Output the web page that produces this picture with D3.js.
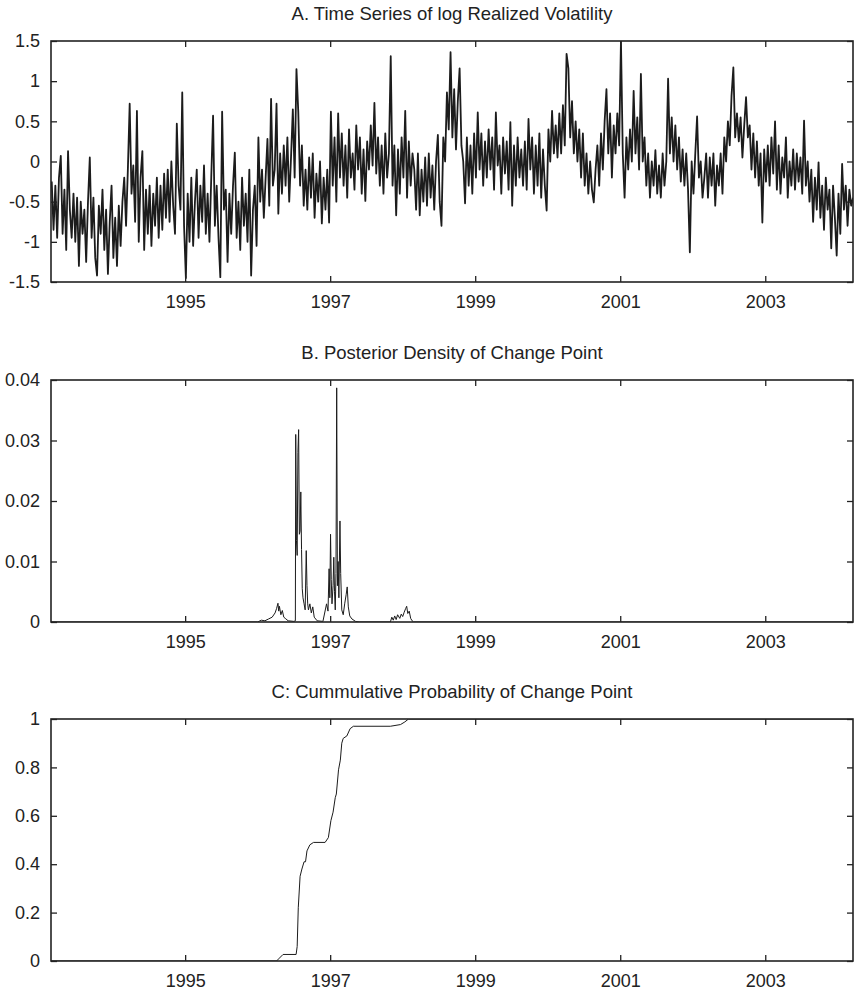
<!DOCTYPE html>
<html>
<head>
<meta charset="utf-8">
<script src="https://cdnjs.cloudflare.com/ajax/libs/d3/7.8.5/d3.min.js"></script>
<style>
  body { margin: 0; background: #fff; }
  svg text { font-family: "Liberation Sans", Arial, Helvetica, sans-serif; fill: #222; }
</style>
</head>
<body>
<div id="chart"></div>
<script>
// Panel A: log realized volatility, one value every 0.025 years starting at volStart
var volStart = 1993.16;
var volStep = 0.025;
var logRV = [
  -0.25,-0.85,-0.3,-0.95,-0.2,0.07,-0.9,-0.35,-1.1,0.13,-0.6,-0.95,-0.4,-1.0,-0.45,-1.3,-0.5,-0.9,-0.6,-1.25,
  -0.5,0.05,-0.95,-0.45,-1.2,-1.42,-0.55,-0.9,-0.35,-1.1,-0.6,-1.4,-0.75,-0.3,-1.2,-0.7,-1.3,-0.55,-1.05,-0.5,
  -0.2,-0.8,-0.1,0.72,-0.4,-0.05,-0.75,0.63,-1.0,-0.2,0.13,-1.1,-0.35,-0.9,-0.3,-1.05,-0.4,-0.8,-0.2,-0.95,
  -0.3,-0.85,-0.15,-0.7,-0.1,-0.75,0.0,-0.55,-0.9,0.47,-0.3,-0.6,0.86,-0.8,-1.45,-0.4,-1.0,-0.2,-1.05,-0.5,
  -0.1,-0.95,-0.3,-0.75,-0.05,-0.9,-0.4,-1.0,-0.2,0.57,-0.8,-0.3,-0.95,-1.44,0.62,-0.6,-0.35,-1.25,-0.4,-0.9,
  -0.3,0.11,-0.95,-0.5,-1.1,-0.2,-0.8,-0.4,-1.0,-0.1,-1.42,-0.6,-0.3,-1.05,0.3,-0.5,-0.1,-0.7,-0.2,0.28,
  -0.55,0.78,-0.3,-0.1,0.72,-0.65,0.1,-0.4,0.2,-0.3,0.3,-0.5,0.05,0.65,-0.2,1.15,0.62,-0.3,0.2,-0.55,
  -0.1,-0.6,0.05,-0.45,0.1,-0.7,-0.15,-0.5,0.0,-0.77,-0.2,-0.6,-0.1,-0.76,0.62,-0.3,0.3,-0.5,0.6,-0.2,
  0.35,-0.3,0.2,-0.45,0.4,-0.2,0.1,-0.35,0.45,-0.1,0.3,-0.4,0.15,-0.49,0.25,-0.1,0.45,-0.05,0.73,-0.15,
  0.3,-0.3,0.2,-0.4,0.35,-0.2,0.1,1.31,-0.3,0.2,-0.67,0.15,-0.4,0.3,-0.2,0.63,-0.45,0.25,-0.3,0.1,
  -0.1,-0.6,0.1,-0.67,-0.1,-0.5,0.05,-0.55,0.1,-0.45,-0.05,-0.6,0.0,0.33,-0.5,-0.8,0.3,0.0,0.86,0.4,
  1.36,0.3,0.9,0.15,0.75,1.16,0.2,0.0,-0.52,0.3,-0.3,0.2,-0.4,0.35,-0.2,0.61,-0.1,0.35,-0.3,0.25,
  -0.2,0.4,-0.1,0.3,-0.35,0.61,-0.05,0.2,-0.4,0.3,-0.15,0.25,-0.35,0.49,-0.55,0.2,-0.3,0.3,-0.2,0.15,
  -0.3,0.25,-0.35,0.53,-0.1,0.3,-0.4,0.2,-0.3,0.35,-0.45,0.15,-0.3,-0.61,0.4,0.0,0.63,0.1,0.45,0.05,
  0.6,0.1,0.7,0.2,1.34,1.16,0.3,0.75,0.1,0.5,0.0,0.4,-0.2,0.35,-0.3,0.1,-0.4,0.0,-0.35,-0.51,
  -0.1,0.2,-0.3,0.35,-0.1,0.5,0.9,0.1,0.6,-0.2,0.45,0.1,0.6,0.2,1.5,0.1,-0.45,0.3,-0.1,0.4,
  0.0,0.88,0.1,0.55,-0.1,1.09,0.0,0.3,-0.3,0.1,-0.45,0.0,-0.3,0.14,-0.4,-0.05,-0.45,0.1,-0.3,0.0,
  1.03,0.1,0.55,0.0,0.45,-0.1,0.3,-0.25,0.15,-0.3,0.1,-0.35,-1.13,0.0,-0.4,0.1,0.56,-0.2,0.0,-0.45,
  -0.2,0.1,-0.45,0.05,-0.3,0.1,-0.55,-0.05,-0.3,0.1,-0.4,0.3,0.0,0.5,0.2,0.82,1.17,0.3,0.6,0.25,
  0.55,0.05,0.45,0.8,0.3,0.45,-0.1,0.35,-0.2,0.25,-0.3,0.1,-0.76,0.15,-0.25,0.2,-0.3,0.3,-0.15,0.5,
  -0.35,0.2,-0.4,0.05,-0.2,0.3,-0.45,0.0,-0.3,0.15,-0.35,0.1,-0.25,0.05,-0.4,0.51,-0.3,0.0,-0.5,-0.1,
  -0.75,-0.2,-0.6,-0.01,-0.7,-0.3,-0.85,-0.2,-0.6,-0.35,-1.08,-0.3,-0.7,-1.17,-0.4,-0.9,-0.03,-0.6,-0.3,-0.8,
  -0.35,-0.55,-0.45
];

// Panel B: posterior density of the change point (year, density)
var densYears = [1993.15,1996.0,1996.05,1996.1,1996.15,1996.2,1996.24,1996.26,1996.28,1996.29,1996.30,1996.32,1996.34,1996.36,1996.38,1996.42,1996.5,1996.52,
  1996.525,1996.535,1996.545,1996.555,1996.565,1996.575,1996.585,1996.595,1996.605,1996.615,1996.625,1996.64,1996.655,1996.67,1996.68,1996.69,1996.70,1996.72,1996.74,1996.76,1996.78,1996.82,1996.90,
  1996.95,1996.97,1996.985,1996.995,1997.005,1997.015,1997.025,1997.04,1997.05,1997.06,1997.07,1997.08,1997.09,1997.10,1997.11,1997.12,1997.135,1997.145,1997.16,1997.18,1997.20,1997.22,1997.235,1997.25,1997.27,1997.30,1997.35,1997.40,
  1997.83,1997.85,1997.87,1997.89,1997.91,1997.93,1997.96,1997.98,1998.00,1998.02,1998.04,1998.055,1998.07,1998.09,1998.11,1998.13,1998.15,2004.21];
var densValues = [0,0,0.0003,0.0002,0.0005,0.0008,0.0015,0.0022,0.0031,0.0018,0.0026,0.0012,0.0019,0.0008,0.0006,0.0002,0.0001,0.0002,
  0.0310,0.0135,0.0110,0.0280,0.0318,0.0145,0.0150,0.0215,0.0120,0.0055,0.0040,0.0030,0.0020,0.0118,0.0060,0.0030,0.0020,0.0030,0.0015,0.0025,0.0008,0.0002,0.0001,
  0.0030,0.0018,0.0088,0.0040,0.0145,0.0070,0.0030,0.0060,0.0107,0.0050,0.0020,0.0080,0.0387,0.0060,0.0100,0.0040,0.0167,0.0080,0.0020,0.0012,0.0030,0.0045,0.0058,0.0025,0.0010,0.0005,0.0001,0,
  0,0.0008,0.0003,0.0010,0.0004,0.0012,0.0006,0.0013,0.0009,0.0016,0.0022,0.0026,0.0014,0.0018,0.0006,0.0002,0,0];

// Panel C: cumulative probability of the change point
var cumYears = [1993.15,1996.26,1996.30,1996.35,1996.53,1996.545,1996.56,1996.585,1996.61,1996.64,1996.66,1996.68,1996.72,1996.77,1996.93,1996.975,
  1997.01,1997.04,1997.07,1997.085,1997.115,1997.14,1997.16,1997.18,1997.23,1997.275,1997.32,1997.83,1997.97,1998.03,1998.08,2004.21];
var cumValues = [0,0,0.012,0.027,0.027,0.06,0.22,0.35,0.38,0.41,0.41,0.455,0.48,0.49,0.49,0.51,
  0.58,0.615,0.675,0.69,0.79,0.83,0.90,0.92,0.93,0.96,0.97,0.97,0.977,0.988,1.0,1.0];

var yearTicks = [1995, 1997, 1999, 2001, 2003];
var xDomain = [1993.15, 2004.21];

var width = 854, height = 992;
var left = 51, right = 853;

var svg = d3.select("#chart").append("svg")
  .attr("width", width)
  .attr("height", height);

var x = d3.scaleLinear().domain(xDomain).range([left, right]);

// one panel = frame + ticks + line
function drawPanel(cfg) {
  var y = d3.scaleLinear().domain(cfg.yDomain).range([cfg.bottom, cfg.top]);
  var g = svg.append("g");

  g.append("text")
    .attr("x", (left + right) / 2)
    .attr("y", cfg.top - 21)
    .attr("text-anchor", "middle")
    .style("font-size", "18.5px")
    .text(cfg.title);

  var clipId = "clip" + cfg.id;
  g.append("clipPath").attr("id", clipId)
    .append("rect")
    .attr("x", left).attr("y", cfg.top)
    .attr("width", right - left).attr("height", cfg.bottom - cfg.top);

  var line = d3.line()
    .x(function(d) { return x(d[0]); })
    .y(function(d) { return y(d[1]); });

  g.append("path")
    .datum(cfg.data)
    .attr("clip-path", "url(#" + clipId + ")")
    .attr("d", line)
    .attr("fill", "none")
    .attr("stroke", "#1c1c1c")
    .attr("stroke-width", cfg.lineWidth)
    .attr("stroke-linejoin", "round");

  // inward ticks on all four sides, labels only bottom and left
  var axL = g.append("g").attr("transform", "translate(" + left + ",0)")
    .call(d3.axisLeft(y).tickValues(cfg.yTicks).tickSize(-6).tickPadding(11).tickFormat(cfg.yFormat));
  var axR = g.append("g").attr("transform", "translate(" + right + ",0)")
    .call(d3.axisRight(y).tickValues(cfg.yTicks).tickSize(-6).tickFormat(""));
  var axB = g.append("g").attr("transform", "translate(0," + cfg.bottom + ")")
    .call(d3.axisBottom(x).tickValues(yearTicks).tickSize(-6).tickPadding(13).tickFormat(d3.format("d")));
  var axT = g.append("g").attr("transform", "translate(0," + cfg.top + ")")
    .call(d3.axisTop(x).tickValues(yearTicks).tickSize(-6).tickFormat(""));

  [axL, axR, axB, axT].forEach(function(a) {
    a.select(".domain").remove();
    a.selectAll("line").attr("stroke", "#222").attr("stroke-width", 1.3);
    a.selectAll("text").style("font-size", "18px").attr("fill", "#222")
      .style("font-family", "'Liberation Sans', Arial, sans-serif");
  });

  g.append("rect")
    .attr("x", left).attr("y", cfg.top)
    .attr("width", right - left).attr("height", cfg.bottom - cfg.top)
    .attr("fill", "none")
    .attr("stroke", "#222")
    .attr("stroke-width", 1.6);
}

var volData = logRV.map(function(v, i) { return [volStart + i * volStep, v]; });
var densData = densYears.map(function(t, i) { return [t, densValues[i]]; });
var cumData = cumYears.map(function(t, i) { return [t, cumValues[i]]; });

drawPanel({
  id: "A", title: "A. Time Series of log Realized Volatility",
  top: 41, bottom: 282, yDomain: [-1.5, 1.5],
  yTicks: [-1.5, -1, -0.5, 0, 0.5, 1, 1.5],
  yFormat: function(d) { return String(d); },
  data: volData, lineWidth: 1.8
});

drawPanel({
  id: "B", title: "B. Posterior Density of Change Point",
  top: 380, bottom: 622, yDomain: [0, 0.04],
  yTicks: [0, 0.01, 0.02, 0.03, 0.04],
  yFormat: function(d) { return d === 0 ? "0" : d3.format(".2f")(d); },
  data: densData, lineWidth: 1
});

drawPanel({
  id: "C", title: "C: Cummulative Probability of Change Point",
  top: 719, bottom: 961, yDomain: [0, 1],
  yTicks: [0, 0.2, 0.4, 0.6, 0.8, 1],
  yFormat: function(d) { return String(d); },
  data: cumData, lineWidth: 1
});
</script>
</body>
</html>
